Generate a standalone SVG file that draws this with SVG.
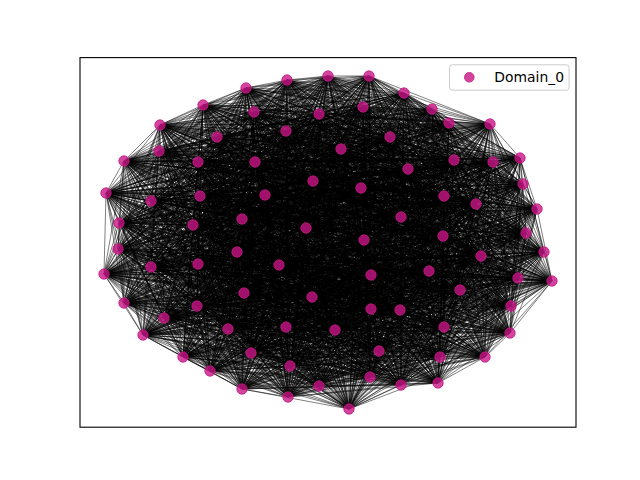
<svg xmlns="http://www.w3.org/2000/svg" width="640" height="480" viewBox="0 0 640 480">
<style>
.e path{fill:none;stroke:#000;stroke-opacity:.5;stroke-width:1;stroke-linejoin:round}
.n circle,.lm{fill:#c71585;fill-opacity:.8;stroke:#c71585;stroke-opacity:.8;stroke-width:1}
.t{font-family:"DejaVu Sans","Liberation Sans",sans-serif;font-size:13.9px;fill:#000}
</style>
<rect width="640" height="480" fill="#fff"/>
<g id="edges" class="e">
<path d="M328,76 369,76 349,409 287,80 288,397 246,88 438,383 404,93 401,385 432,109 319,386 203,105 242,389 254,112 370,377 319,114 210,371 363,107 290,366 449,123 485,357 490,124 440,357 160,125 379,351 217,137 251,353 286,131 183,357 390,137 510,333 341,149 143,335 159,151 444,327 124,161 335,330 198,162 286,327 255,162 228,329 454,160 164,318 493,162 511,306 520,158 400,310 408,169 371,309 313,181 197,306 361,188 124,303 523,184 312,297 265,195 244,293 106,193 460,290 151,201 552,281 200,196 518,278 444,196 429,271 476,204 371,275 537,209 104,274 242,219 279,265 119,223 198,264 193,225 151,267 306,228 544,252 401,217 481,256 443,236 237,252 526,233 118,249 364,240"/>
<path d="M369,76 287,80 328,76 246,88 349,409 404,93 288,397 432,109 438,383 203,105 401,385 254,112 319,386 319,114 242,389 363,107 370,377 449,123 210,371 490,124 290,366 160,125 485,357 217,137 440,357 286,131 379,351 390,137 251,353 341,149 183,357 159,151 510,333 124,161 143,335 198,162 444,327 255,162 335,330 454,160 286,327 493,162 228,329 520,158 164,318 408,169 511,306 313,181 400,310 361,188 371,309 523,184 197,306 265,195 124,303 106,193 312,297 151,201 244,293 200,196 460,290 444,196 552,281 476,204 518,278 537,209 429,271 242,219 371,275 119,223 104,274 193,225 279,265 306,228 198,264 401,217 151,267 443,236 544,252 526,233 481,256 364,240 237,252 118,249"/>
<path d="M287,80 246,88 369,76 404,93 328,76 432,109 349,409 203,105 288,397 254,112 438,383 319,114 401,385 363,107 319,386 449,123 242,389 490,124 370,377 160,125 210,371 217,137 290,366 286,131 485,357 390,137 440,357 341,149 379,351 159,151 251,353 124,161 183,357 198,162 510,333 255,162 143,335 454,160 444,327 493,162 335,330 520,158 286,327 408,169 228,329 313,181 164,318 361,188 511,306 523,184 400,310 265,195 371,309 106,193 197,306 151,201 124,303 200,196 312,297 444,196 244,293 476,204 460,290 537,209 552,281 242,219 518,278 119,223 429,271 193,225 371,275 306,228 104,274 401,217 279,265 443,236 198,264 526,233 151,267 364,240 544,252 118,249 481,256 237,252"/>
<path d="M246,88 404,93 287,80 432,109 369,76 203,105 328,76 254,112 349,409 319,114 288,397 363,107 438,383 449,123 401,385 490,124 319,386 160,125 242,389 217,137 370,377 286,131 210,371 390,137 290,366 341,149 485,357 159,151 440,357 124,161 379,351 198,162 251,353 255,162 183,357 454,160 510,333 493,162 143,335 520,158 444,327 408,169 335,330 313,181 286,327 361,188 228,329 523,184 164,318 265,195 511,306 106,193 400,310 151,201 371,309 200,196 197,306 444,196 124,303 476,204 312,297 537,209 244,293 242,219 460,290 119,223 552,281 193,225 518,278 306,228 429,271 401,217 371,275 443,236 104,274 526,233 279,265 364,240 198,264 118,249 151,267 237,252 544,252 481,256"/>
<path d="M404,93 432,109 246,88 203,105 287,80 254,112 369,76 319,114 328,76 363,107 349,409 449,123 288,397 490,124 438,383 160,125 401,385 217,137 319,386 286,131 242,389 390,137 370,377 341,149 210,371 159,151 290,366 124,161 485,357 198,162 440,357 255,162 379,351 454,160 251,353 493,162 183,357 520,158 510,333 408,169 143,335 313,181 444,327 361,188 335,330 523,184 286,327 265,195 228,329 106,193 164,318 151,201 511,306 200,196 400,310 444,196 371,309 476,204 197,306 537,209 124,303 242,219 312,297 119,223 244,293 193,225 460,290 306,228 552,281 401,217 518,278 443,236 429,271 526,233 371,275 364,240 104,274 118,249 279,265 237,252 198,264 481,256 151,267 544,252"/>
<path d="M432,109 203,105 404,93 254,112 246,88 319,114 287,80 363,107 369,76 449,123 328,76 490,124 349,409 160,125 288,397 217,137 438,383 286,131 401,385 390,137 319,386 341,149 242,389 159,151 370,377 124,161 210,371 198,162 290,366 255,162 485,357 454,160 440,357 493,162 379,351 520,158 251,353 408,169 183,357 313,181 510,333 361,188 143,335 523,184 444,327 265,195 335,330 106,193 286,327 151,201 228,329 200,196 164,318 444,196 511,306 476,204 400,310 537,209 371,309 242,219 197,306 119,223 124,303 193,225 312,297 306,228 244,293 401,217 460,290 443,236 552,281 526,233 518,278 364,240 429,271 118,249 371,275 237,252 104,274 481,256 279,265 544,252 198,264 151,267"/>
<path d="M203,105 254,112 432,109 319,114 404,93 363,107 246,88 449,123 287,80 490,124 369,76 160,125 328,76 217,137 349,409 286,131 288,397 390,137 438,383 341,149 401,385 159,151 319,386 124,161 242,389 198,162 370,377 255,162 210,371 454,160 290,366 493,162 485,357 520,158 440,357 408,169 379,351 313,181 251,353 361,188 183,357 523,184 510,333 265,195 143,335 106,193 444,327 151,201 335,330 200,196 286,327 444,196 228,329 476,204 164,318 537,209 511,306 242,219 400,310 119,223 371,309 193,225 197,306 306,228 124,303 401,217 312,297 443,236 244,293 526,233 460,290 364,240 552,281 118,249 518,278 237,252 429,271 481,256 371,275 544,252 104,274 151,267 279,265 198,264"/>
<path d="M254,112 319,114 203,105 363,107 432,109 449,123 404,93 490,124 246,88 160,125 287,80 217,137 369,76 286,131 328,76 390,137 349,409 341,149 288,397 159,151 438,383 124,161 401,385 198,162 319,386 255,162 242,389 454,160 370,377 493,162 210,371 520,158 290,366 408,169 485,357 313,181 440,357 361,188 379,351 523,184 251,353 265,195 183,357 106,193 510,333 151,201 143,335 200,196 444,327 444,196 335,330 476,204 286,327 537,209 228,329 242,219 164,318 119,223 511,306 193,225 400,310 306,228 371,309 401,217 197,306 443,236 124,303 526,233 312,297 364,240 244,293 118,249 460,290 237,252 552,281 481,256 518,278 544,252 429,271 151,267 371,275 198,264 104,274 279,265"/>
<path d="M319,114 363,107 254,112 449,123 203,105 490,124 432,109 160,125 404,93 217,137 246,88 286,131 287,80 390,137 369,76 341,149 328,76 159,151 349,409 124,161 288,397 198,162 438,383 255,162 401,385 454,160 319,386 493,162 242,389 520,158 370,377 408,169 210,371 313,181 290,366 361,188 485,357 523,184 440,357 265,195 379,351 106,193 251,353 151,201 183,357 200,196 510,333 444,196 143,335 476,204 444,327 537,209 335,330 242,219 286,327 119,223 228,329 193,225 164,318 306,228 511,306 401,217 400,310 443,236 371,309 526,233 197,306 364,240 124,303 118,249 312,297 237,252 244,293 481,256 460,290 544,252 552,281 151,267 518,278 198,264 429,271 279,265 371,275 104,274"/>
<path d="M363,107 449,123 319,114 490,124 254,112 160,125 203,105 217,137 432,109 286,131 404,93 390,137 246,88 341,149 287,80 159,151 369,76 124,161 328,76 198,162 349,409 255,162 288,397 454,160 438,383 493,162 401,385 520,158 319,386 408,169 242,389 313,181 370,377 361,188 210,371 523,184 290,366 265,195 485,357 106,193 440,357 151,201 379,351 200,196 251,353 444,196 183,357 476,204 510,333 537,209 143,335 242,219 444,327 119,223 335,330 193,225 286,327 306,228 228,329 401,217 164,318 443,236 511,306 526,233 400,310 364,240 371,309 118,249 197,306 237,252 124,303 481,256 312,297 544,252 244,293 151,267 460,290 198,264 552,281 279,265 518,278 104,274 429,271 371,275"/>
<path d="M449,123 490,124 363,107 160,125 319,114 217,137 254,112 286,131 203,105 390,137 432,109 341,149 404,93 159,151 246,88 124,161 287,80 198,162 369,76 255,162 328,76 454,160 349,409 493,162 288,397 520,158 438,383 408,169 401,385 313,181 319,386 361,188 242,389 523,184 370,377 265,195 210,371 106,193 290,366 151,201 485,357 200,196 440,357 444,196 379,351 476,204 251,353 537,209 183,357 242,219 510,333 119,223 143,335 193,225 444,327 306,228 335,330 401,217 286,327 443,236 228,329 526,233 164,318 364,240 511,306 118,249 400,310 237,252 371,309 481,256 197,306 544,252 124,303 151,267 312,297 198,264 244,293 279,265 460,290 104,274 552,281 371,275 518,278 429,271"/>
<path d="M490,124 160,125 449,123 217,137 363,107 286,131 319,114 390,137 254,112 341,149 203,105 159,151 432,109 124,161 404,93 198,162 246,88 255,162 287,80 454,160 369,76 493,162 328,76 520,158 349,409 408,169 288,397 313,181 438,383 361,188 401,385 523,184 319,386 265,195 242,389 106,193 370,377 151,201 210,371 200,196 290,366 444,196 485,357 476,204 440,357 537,209 379,351 242,219 251,353 119,223 183,357 193,225 510,333 306,228 143,335 401,217 444,327 443,236 335,330 526,233 286,327 364,240 228,329 118,249 164,318 237,252 511,306 481,256 400,310 544,252 371,309 151,267 197,306 198,264 124,303 279,265 312,297 104,274 244,293 371,275 460,290 429,271 552,281 518,278"/>
<path d="M160,125 217,137 490,124 286,131 449,123 390,137 363,107 341,149 319,114 159,151 254,112 124,161 203,105 198,162 432,109 255,162 404,93 454,160 246,88 493,162 287,80 520,158 369,76 408,169 328,76 313,181 349,409 361,188 288,397 523,184 438,383 265,195 401,385 106,193 319,386 151,201 242,389 200,196 370,377 444,196 210,371 476,204 290,366 537,209 485,357 242,219 440,357 119,223 379,351 193,225 251,353 306,228 183,357 401,217 510,333 443,236 143,335 526,233 444,327 364,240 335,330 118,249 286,327 237,252 228,329 481,256 164,318 544,252 511,306 151,267 400,310 198,264 371,309 279,265 197,306 104,274 124,303 371,275 312,297 429,271 244,293 518,278 460,290 552,281"/>
<path d="M217,137 286,131 160,125 390,137 490,124 341,149 449,123 159,151 363,107 124,161 319,114 198,162 254,112 255,162 203,105 454,160 432,109 493,162 404,93 520,158 246,88 408,169 287,80 313,181 369,76 361,188 328,76 523,184 349,409 265,195 288,397 106,193 438,383 151,201 401,385 200,196 319,386 444,196 242,389 476,204 370,377 537,209 210,371 242,219 290,366 119,223 485,357 193,225 440,357 306,228 379,351 401,217 251,353 443,236 183,357 526,233 510,333 364,240 143,335 118,249 444,327 237,252 335,330 481,256 286,327 544,252 228,329 151,267 164,318 198,264 511,306 279,265 400,310 104,274 371,309 371,275 197,306 429,271 124,303 518,278 312,297 552,281 244,293 460,290"/>
<path d="M286,131 390,137 217,137 341,149 160,125 159,151 490,124 124,161 449,123 198,162 363,107 255,162 319,114 454,160 254,112 493,162 203,105 520,158 432,109 408,169 404,93 313,181 246,88 361,188 287,80 523,184 369,76 265,195 328,76 106,193 349,409 151,201 288,397 200,196 438,383 444,196 401,385 476,204 319,386 537,209 242,389 242,219 370,377 119,223 210,371 193,225 290,366 306,228 485,357 401,217 440,357 443,236 379,351 526,233 251,353 364,240 183,357 118,249 510,333 237,252 143,335 481,256 444,327 544,252 335,330 151,267 286,327 198,264 228,329 279,265 164,318 104,274 511,306 371,275 400,310 429,271 371,309 518,278 197,306 552,281 124,303 460,290 312,297 244,293"/>
<path d="M390,137 341,149 286,131 159,151 217,137 124,161 160,125 198,162 490,124 255,162 449,123 454,160 363,107 493,162 319,114 520,158 254,112 408,169 203,105 313,181 432,109 361,188 404,93 523,184 246,88 265,195 287,80 106,193 369,76 151,201 328,76 200,196 349,409 444,196 288,397 476,204 438,383 537,209 401,385 242,219 319,386 119,223 242,389 193,225 370,377 306,228 210,371 401,217 290,366 443,236 485,357 526,233 440,357 364,240 379,351 118,249 251,353 237,252 183,357 481,256 510,333 544,252 143,335 151,267 444,327 198,264 335,330 279,265 286,327 104,274 228,329 371,275 164,318 429,271 511,306 518,278 400,310 552,281 371,309 460,290 197,306 244,293 124,303 312,297"/>
<path d="M341,149 159,151 390,137 124,161 286,131 198,162 217,137 255,162 160,125 454,160 490,124 493,162 449,123 520,158 363,107 408,169 319,114 313,181 254,112 361,188 203,105 523,184 432,109 265,195 404,93 106,193 246,88 151,201 287,80 200,196 369,76 444,196 328,76 476,204 349,409 537,209 288,397 242,219 438,383 119,223 401,385 193,225 319,386 306,228 242,389 401,217 370,377 443,236 210,371 526,233 290,366 364,240 485,357 118,249 440,357 237,252 379,351 481,256 251,353 544,252 183,357 151,267 510,333 198,264 143,335 279,265 444,327 104,274 335,330 371,275 286,327 429,271 228,329 518,278 164,318 552,281 511,306 460,290 400,310 244,293 371,309 312,297 197,306 124,303"/>
<path d="M159,151 124,161 341,149 198,162 390,137 255,162 286,131 454,160 217,137 493,162 160,125 520,158 490,124 408,169 449,123 313,181 363,107 361,188 319,114 523,184 254,112 265,195 203,105 106,193 432,109 151,201 404,93 200,196 246,88 444,196 287,80 476,204 369,76 537,209 328,76 242,219 349,409 119,223 288,397 193,225 438,383 306,228 401,385 401,217 319,386 443,236 242,389 526,233 370,377 364,240 210,371 118,249 290,366 237,252 485,357 481,256 440,357 544,252 379,351 151,267 251,353 198,264 183,357 279,265 510,333 104,274 143,335 371,275 444,327 429,271 335,330 518,278 286,327 552,281 228,329 460,290 164,318 244,293 511,306 312,297 400,310 124,303 371,309 197,306"/>
<path d="M124,161 198,162 159,151 255,162 341,149 454,160 390,137 493,162 286,131 520,158 217,137 408,169 160,125 313,181 490,124 361,188 449,123 523,184 363,107 265,195 319,114 106,193 254,112 151,201 203,105 200,196 432,109 444,196 404,93 476,204 246,88 537,209 287,80 242,219 369,76 119,223 328,76 193,225 349,409 306,228 288,397 401,217 438,383 443,236 401,385 526,233 319,386 364,240 242,389 118,249 370,377 237,252 210,371 481,256 290,366 544,252 485,357 151,267 440,357 198,264 379,351 279,265 251,353 104,274 183,357 371,275 510,333 429,271 143,335 518,278 444,327 552,281 335,330 460,290 286,327 244,293 228,329 312,297 164,318 124,303 511,306 197,306 400,310 371,309"/>
<path d="M198,162 255,162 124,161 454,160 159,151 493,162 341,149 520,158 390,137 408,169 286,131 313,181 217,137 361,188 160,125 523,184 490,124 265,195 449,123 106,193 363,107 151,201 319,114 200,196 254,112 444,196 203,105 476,204 432,109 537,209 404,93 242,219 246,88 119,223 287,80 193,225 369,76 306,228 328,76 401,217 349,409 443,236 288,397 526,233 438,383 364,240 401,385 118,249 319,386 237,252 242,389 481,256 370,377 544,252 210,371 151,267 290,366 198,264 485,357 279,265 440,357 104,274 379,351 371,275 251,353 429,271 183,357 518,278 510,333 552,281 143,335 460,290 444,327 244,293 335,330 312,297 286,327 124,303 228,329 197,306 164,318 371,309 511,306 400,310"/>
<path d="M255,162 454,160 198,162 493,162 124,161 520,158 159,151 408,169 341,149 313,181 390,137 361,188 286,131 523,184 217,137 265,195 160,125 106,193 490,124 151,201 449,123 200,196 363,107 444,196 319,114 476,204 254,112 537,209 203,105 242,219 432,109 119,223 404,93 193,225 246,88 306,228 287,80 401,217 369,76 443,236 328,76 526,233 349,409 364,240 288,397 118,249 438,383 237,252 401,385 481,256 319,386 544,252 242,389 151,267 370,377 198,264 210,371 279,265 290,366 104,274 485,357 371,275 440,357 429,271 379,351 518,278 251,353 552,281 183,357 460,290 510,333 244,293 143,335 312,297 444,327 124,303 335,330 197,306 286,327 371,309 228,329 400,310 164,318 511,306"/>
<path d="M454,160 493,162 255,162 520,158 198,162 408,169 124,161 313,181 159,151 361,188 341,149 523,184 390,137 265,195 286,131 106,193 217,137 151,201 160,125 200,196 490,124 444,196 449,123 476,204 363,107 537,209 319,114 242,219 254,112 119,223 203,105 193,225 432,109 306,228 404,93 401,217 246,88 443,236 287,80 526,233 369,76 364,240 328,76 118,249 349,409 237,252 288,397 481,256 438,383 544,252 401,385 151,267 319,386 198,264 242,389 279,265 370,377 104,274 210,371 371,275 290,366 429,271 485,357 518,278 440,357 552,281 379,351 460,290 251,353 244,293 183,357 312,297 510,333 124,303 143,335 197,306 444,327 371,309 335,330 400,310 286,327 511,306 228,329 164,318"/>
<path d="M493,162 520,158 454,160 408,169 255,162 313,181 198,162 361,188 124,161 523,184 159,151 265,195 341,149 106,193 390,137 151,201 286,131 200,196 217,137 444,196 160,125 476,204 490,124 537,209 449,123 242,219 363,107 119,223 319,114 193,225 254,112 306,228 203,105 401,217 432,109 443,236 404,93 526,233 246,88 364,240 287,80 118,249 369,76 237,252 328,76 481,256 349,409 544,252 288,397 151,267 438,383 198,264 401,385 279,265 319,386 104,274 242,389 371,275 370,377 429,271 210,371 518,278 290,366 552,281 485,357 460,290 440,357 244,293 379,351 312,297 251,353 124,303 183,357 197,306 510,333 371,309 143,335 400,310 444,327 511,306 335,330 164,318 286,327 228,329"/>
<path d="M520,158 408,169 493,162 313,181 454,160 361,188 255,162 523,184 198,162 265,195 124,161 106,193 159,151 151,201 341,149 200,196 390,137 444,196 286,131 476,204 217,137 537,209 160,125 242,219 490,124 119,223 449,123 193,225 363,107 306,228 319,114 401,217 254,112 443,236 203,105 526,233 432,109 364,240 404,93 118,249 246,88 237,252 287,80 481,256 369,76 544,252 328,76 151,267 349,409 198,264 288,397 279,265 438,383 104,274 401,385 371,275 319,386 429,271 242,389 518,278 370,377 552,281 210,371 460,290 290,366 244,293 485,357 312,297 440,357 124,303 379,351 197,306 251,353 371,309 183,357 400,310 510,333 511,306 143,335 164,318 444,327 228,329 335,330 286,327"/>
<path d="M408,169 313,181 520,158 361,188 493,162 523,184 454,160 265,195 255,162 106,193 198,162 151,201 124,161 200,196 159,151 444,196 341,149 476,204 390,137 537,209 286,131 242,219 217,137 119,223 160,125 193,225 490,124 306,228 449,123 401,217 363,107 443,236 319,114 526,233 254,112 364,240 203,105 118,249 432,109 237,252 404,93 481,256 246,88 544,252 287,80 151,267 369,76 198,264 328,76 279,265 349,409 104,274 288,397 371,275 438,383 429,271 401,385 518,278 319,386 552,281 242,389 460,290 370,377 244,293 210,371 312,297 290,366 124,303 485,357 197,306 440,357 371,309 379,351 400,310 251,353 511,306 183,357 164,318 510,333 228,329 143,335 286,327 444,327 335,330"/>
<path d="M313,181 361,188 408,169 523,184 520,158 265,195 493,162 106,193 454,160 151,201 255,162 200,196 198,162 444,196 124,161 476,204 159,151 537,209 341,149 242,219 390,137 119,223 286,131 193,225 217,137 306,228 160,125 401,217 490,124 443,236 449,123 526,233 363,107 364,240 319,114 118,249 254,112 237,252 203,105 481,256 432,109 544,252 404,93 151,267 246,88 198,264 287,80 279,265 369,76 104,274 328,76 371,275 349,409 429,271 288,397 518,278 438,383 552,281 401,385 460,290 319,386 244,293 242,389 312,297 370,377 124,303 210,371 197,306 290,366 371,309 485,357 400,310 440,357 511,306 379,351 164,318 251,353 228,329 183,357 286,327 510,333 335,330 143,335 444,327"/>
<path d="M361,188 523,184 313,181 265,195 408,169 106,193 520,158 151,201 493,162 200,196 454,160 444,196 255,162 476,204 198,162 537,209 124,161 242,219 159,151 119,223 341,149 193,225 390,137 306,228 286,131 401,217 217,137 443,236 160,125 526,233 490,124 364,240 449,123 118,249 363,107 237,252 319,114 481,256 254,112 544,252 203,105 151,267 432,109 198,264 404,93 279,265 246,88 104,274 287,80 371,275 369,76 429,271 328,76 518,278 349,409 552,281 288,397 460,290 438,383 244,293 401,385 312,297 319,386 124,303 242,389 197,306 370,377 371,309 210,371 400,310 290,366 511,306 485,357 164,318 440,357 228,329 379,351 286,327 251,353 335,330 183,357 444,327 510,333 143,335"/>
<path d="M523,184 265,195 361,188 106,193 313,181 151,201 408,169 200,196 520,158 444,196 493,162 476,204 454,160 537,209 255,162 242,219 198,162 119,223 124,161 193,225 159,151 306,228 341,149 401,217 390,137 443,236 286,131 526,233 217,137 364,240 160,125 118,249 490,124 237,252 449,123 481,256 363,107 544,252 319,114 151,267 254,112 198,264 203,105 279,265 432,109 104,274 404,93 371,275 246,88 429,271 287,80 518,278 369,76 552,281 328,76 460,290 349,409 244,293 288,397 312,297 438,383 124,303 401,385 197,306 319,386 371,309 242,389 400,310 370,377 511,306 210,371 164,318 290,366 228,329 485,357 286,327 440,357 335,330 379,351 444,327 251,353 143,335 183,357 510,333"/>
<path d="M265,195 106,193 523,184 151,201 361,188 200,196 313,181 444,196 408,169 476,204 520,158 537,209 493,162 242,219 454,160 119,223 255,162 193,225 198,162 306,228 124,161 401,217 159,151 443,236 341,149 526,233 390,137 364,240 286,131 118,249 217,137 237,252 160,125 481,256 490,124 544,252 449,123 151,267 363,107 198,264 319,114 279,265 254,112 104,274 203,105 371,275 432,109 429,271 404,93 518,278 246,88 552,281 287,80 460,290 369,76 244,293 328,76 312,297 349,409 124,303 288,397 197,306 438,383 371,309 401,385 400,310 319,386 511,306 242,389 164,318 370,377 228,329 210,371 286,327 290,366 335,330 485,357 444,327 440,357 143,335 379,351 510,333 251,353 183,357"/>
<path d="M106,193 151,201 265,195 200,196 523,184 444,196 361,188 476,204 313,181 537,209 408,169 242,219 520,158 119,223 493,162 193,225 454,160 306,228 255,162 401,217 198,162 443,236 124,161 526,233 159,151 364,240 341,149 118,249 390,137 237,252 286,131 481,256 217,137 544,252 160,125 151,267 490,124 198,264 449,123 279,265 363,107 104,274 319,114 371,275 254,112 429,271 203,105 518,278 432,109 552,281 404,93 460,290 246,88 244,293 287,80 312,297 369,76 124,303 328,76 197,306 349,409 371,309 288,397 400,310 438,383 511,306 401,385 164,318 319,386 228,329 242,389 286,327 370,377 335,330 210,371 444,327 290,366 143,335 485,357 510,333 440,357 183,357 379,351 251,353"/>
<path d="M151,201 200,196 106,193 444,196 265,195 476,204 523,184 537,209 361,188 242,219 313,181 119,223 408,169 193,225 520,158 306,228 493,162 401,217 454,160 443,236 255,162 526,233 198,162 364,240 124,161 118,249 159,151 237,252 341,149 481,256 390,137 544,252 286,131 151,267 217,137 198,264 160,125 279,265 490,124 104,274 449,123 371,275 363,107 429,271 319,114 518,278 254,112 552,281 203,105 460,290 432,109 244,293 404,93 312,297 246,88 124,303 287,80 197,306 369,76 371,309 328,76 400,310 349,409 511,306 288,397 164,318 438,383 228,329 401,385 286,327 319,386 335,330 242,389 444,327 370,377 143,335 210,371 510,333 290,366 183,357 485,357 251,353 440,357 379,351"/>
<path d="M200,196 444,196 151,201 476,204 106,193 537,209 265,195 242,219 523,184 119,223 361,188 193,225 313,181 306,228 408,169 401,217 520,158 443,236 493,162 526,233 454,160 364,240 255,162 118,249 198,162 237,252 124,161 481,256 159,151 544,252 341,149 151,267 390,137 198,264 286,131 279,265 217,137 104,274 160,125 371,275 490,124 429,271 449,123 518,278 363,107 552,281 319,114 460,290 254,112 244,293 203,105 312,297 432,109 124,303 404,93 197,306 246,88 371,309 287,80 400,310 369,76 511,306 328,76 164,318 349,409 228,329 288,397 286,327 438,383 335,330 401,385 444,327 319,386 143,335 242,389 510,333 370,377 183,357 210,371 251,353 290,366 379,351 485,357 440,357"/>
<path d="M444,196 476,204 200,196 537,209 151,201 242,219 106,193 119,223 265,195 193,225 523,184 306,228 361,188 401,217 313,181 443,236 408,169 526,233 520,158 364,240 493,162 118,249 454,160 237,252 255,162 481,256 198,162 544,252 124,161 151,267 159,151 198,264 341,149 279,265 390,137 104,274 286,131 371,275 217,137 429,271 160,125 518,278 490,124 552,281 449,123 460,290 363,107 244,293 319,114 312,297 254,112 124,303 203,105 197,306 432,109 371,309 404,93 400,310 246,88 511,306 287,80 164,318 369,76 228,329 328,76 286,327 349,409 335,330 288,397 444,327 438,383 143,335 401,385 510,333 319,386 183,357 242,389 251,353 370,377 379,351 210,371 440,357 290,366 485,357"/>
<path d="M476,204 537,209 444,196 242,219 200,196 119,223 151,201 193,225 106,193 306,228 265,195 401,217 523,184 443,236 361,188 526,233 313,181 364,240 408,169 118,249 520,158 237,252 493,162 481,256 454,160 544,252 255,162 151,267 198,162 198,264 124,161 279,265 159,151 104,274 341,149 371,275 390,137 429,271 286,131 518,278 217,137 552,281 160,125 460,290 490,124 244,293 449,123 312,297 363,107 124,303 319,114 197,306 254,112 371,309 203,105 400,310 432,109 511,306 404,93 164,318 246,88 228,329 287,80 286,327 369,76 335,330 328,76 444,327 349,409 143,335 288,397 510,333 438,383 183,357 401,385 251,353 319,386 379,351 242,389 440,357 370,377 485,357 210,371 290,366"/>
<path d="M537,209 242,219 476,204 119,223 444,196 193,225 200,196 306,228 151,201 401,217 106,193 443,236 265,195 526,233 523,184 364,240 361,188 118,249 313,181 237,252 408,169 481,256 520,158 544,252 493,162 151,267 454,160 198,264 255,162 279,265 198,162 104,274 124,161 371,275 159,151 429,271 341,149 518,278 390,137 552,281 286,131 460,290 217,137 244,293 160,125 312,297 490,124 124,303 449,123 197,306 363,107 371,309 319,114 400,310 254,112 511,306 203,105 164,318 432,109 228,329 404,93 286,327 246,88 335,330 287,80 444,327 369,76 143,335 328,76 510,333 349,409 183,357 288,397 251,353 438,383 379,351 401,385 440,357 319,386 485,357 242,389 290,366 370,377 210,371"/>
<path d="M242,219 119,223 537,209 193,225 476,204 306,228 444,196 401,217 200,196 443,236 151,201 526,233 106,193 364,240 265,195 118,249 523,184 237,252 361,188 481,256 313,181 544,252 408,169 151,267 520,158 198,264 493,162 279,265 454,160 104,274 255,162 371,275 198,162 429,271 124,161 518,278 159,151 552,281 341,149 460,290 390,137 244,293 286,131 312,297 217,137 124,303 160,125 197,306 490,124 371,309 449,123 400,310 363,107 511,306 319,114 164,318 254,112 228,329 203,105 286,327 432,109 335,330 404,93 444,327 246,88 143,335 287,80 510,333 369,76 183,357 328,76 251,353 349,409 379,351 288,397 440,357 438,383 485,357 401,385 290,366 319,386 210,371 242,389 370,377"/>
<path d="M119,223 193,225 242,219 306,228 537,209 401,217 476,204 443,236 444,196 526,233 200,196 364,240 151,201 118,249 106,193 237,252 265,195 481,256 523,184 544,252 361,188 151,267 313,181 198,264 408,169 279,265 520,158 104,274 493,162 371,275 454,160 429,271 255,162 518,278 198,162 552,281 124,161 460,290 159,151 244,293 341,149 312,297 390,137 124,303 286,131 197,306 217,137 371,309 160,125 400,310 490,124 511,306 449,123 164,318 363,107 228,329 319,114 286,327 254,112 335,330 203,105 444,327 432,109 143,335 404,93 510,333 246,88 183,357 287,80 251,353 369,76 379,351 328,76 440,357 349,409 485,357 288,397 290,366 438,383 210,371 401,385 370,377 319,386 242,389"/>
<path d="M193,225 306,228 119,223 401,217 242,219 443,236 537,209 526,233 476,204 364,240 444,196 118,249 200,196 237,252 151,201 481,256 106,193 544,252 265,195 151,267 523,184 198,264 361,188 279,265 313,181 104,274 408,169 371,275 520,158 429,271 493,162 518,278 454,160 552,281 255,162 460,290 198,162 244,293 124,161 312,297 159,151 124,303 341,149 197,306 390,137 371,309 286,131 400,310 217,137 511,306 160,125 164,318 490,124 228,329 449,123 286,327 363,107 335,330 319,114 444,327 254,112 143,335 203,105 510,333 432,109 183,357 404,93 251,353 246,88 379,351 287,80 440,357 369,76 485,357 328,76 290,366 349,409 210,371 288,397 370,377 438,383 242,389 401,385 319,386"/>
<path d="M306,228 401,217 193,225 443,236 119,223 526,233 242,219 364,240 537,209 118,249 476,204 237,252 444,196 481,256 200,196 544,252 151,201 151,267 106,193 198,264 265,195 279,265 523,184 104,274 361,188 371,275 313,181 429,271 408,169 518,278 520,158 552,281 493,162 460,290 454,160 244,293 255,162 312,297 198,162 124,303 124,161 197,306 159,151 371,309 341,149 400,310 390,137 511,306 286,131 164,318 217,137 228,329 160,125 286,327 490,124 335,330 449,123 444,327 363,107 143,335 319,114 510,333 254,112 183,357 203,105 251,353 432,109 379,351 404,93 440,357 246,88 485,357 287,80 290,366 369,76 210,371 328,76 370,377 349,409 242,389 288,397 319,386 438,383 401,385"/>
<path d="M401,217 443,236 306,228 526,233 193,225 364,240 119,223 118,249 242,219 237,252 537,209 481,256 476,204 544,252 444,196 151,267 200,196 198,264 151,201 279,265 106,193 104,274 265,195 371,275 523,184 429,271 361,188 518,278 313,181 552,281 408,169 460,290 520,158 244,293 493,162 312,297 454,160 124,303 255,162 197,306 198,162 371,309 124,161 400,310 159,151 511,306 341,149 164,318 390,137 228,329 286,131 286,327 217,137 335,330 160,125 444,327 490,124 143,335 449,123 510,333 363,107 183,357 319,114 251,353 254,112 379,351 203,105 440,357 432,109 485,357 404,93 290,366 246,88 210,371 287,80 370,377 369,76 242,389 328,76 319,386 349,409 401,385 288,397 438,383"/>
</g>
<g id="nodes" class="n">
<g id="n0"><circle cx="328" cy="76" r="5.2"/></g>
<g id="n1"><circle cx="369" cy="76" r="5.2"/></g>
<g id="n2"><circle cx="287" cy="80" r="5.2"/></g>
<g id="n3"><circle cx="246" cy="88" r="5.2"/></g>
<g id="n4"><circle cx="404" cy="93" r="5.2"/></g>
<g id="n5"><circle cx="432" cy="109" r="5.2"/></g>
<g id="n6"><circle cx="203" cy="105" r="5.2"/></g>
<g id="n7"><circle cx="254" cy="112" r="5.2"/></g>
<g id="n8"><circle cx="319" cy="114" r="5.2"/></g>
<g id="n9"><circle cx="363" cy="107" r="5.2"/></g>
<g id="n10"><circle cx="449" cy="123" r="5.2"/></g>
<g id="n11"><circle cx="490" cy="124" r="5.2"/></g>
<g id="n12"><circle cx="160" cy="125" r="5.2"/></g>
<g id="n13"><circle cx="217" cy="137" r="5.2"/></g>
<g id="n14"><circle cx="286" cy="131" r="5.2"/></g>
<g id="n15"><circle cx="390" cy="137" r="5.2"/></g>
<g id="n16"><circle cx="341" cy="149" r="5.2"/></g>
<g id="n17"><circle cx="159" cy="151" r="5.2"/></g>
<g id="n18"><circle cx="124" cy="161" r="5.2"/></g>
<g id="n19"><circle cx="198" cy="162" r="5.2"/></g>
<g id="n20"><circle cx="255" cy="162" r="5.2"/></g>
<g id="n21"><circle cx="454" cy="160" r="5.2"/></g>
<g id="n22"><circle cx="493" cy="162" r="5.2"/></g>
<g id="n23"><circle cx="520" cy="158" r="5.2"/></g>
<g id="n24"><circle cx="408" cy="169" r="5.2"/></g>
<g id="n25"><circle cx="313" cy="181" r="5.2"/></g>
<g id="n26"><circle cx="361" cy="188" r="5.2"/></g>
<g id="n27"><circle cx="523" cy="184" r="5.2"/></g>
<g id="n28"><circle cx="265" cy="195" r="5.2"/></g>
<g id="n29"><circle cx="106" cy="193" r="5.2"/></g>
<g id="n30"><circle cx="151" cy="201" r="5.2"/></g>
<g id="n31"><circle cx="200" cy="196" r="5.2"/></g>
<g id="n32"><circle cx="444" cy="196" r="5.2"/></g>
<g id="n33"><circle cx="476" cy="204" r="5.2"/></g>
<g id="n34"><circle cx="537" cy="209" r="5.2"/></g>
<g id="n35"><circle cx="242" cy="219" r="5.2"/></g>
<g id="n36"><circle cx="119" cy="223" r="5.2"/></g>
<g id="n37"><circle cx="193" cy="225" r="5.2"/></g>
<g id="n38"><circle cx="306" cy="228" r="5.2"/></g>
<g id="n39"><circle cx="401" cy="217" r="5.2"/></g>
<g id="n40"><circle cx="443" cy="236" r="5.2"/></g>
<g id="n41"><circle cx="526" cy="233" r="5.2"/></g>
<g id="n42"><circle cx="364" cy="240" r="5.2"/></g>
<g id="n43"><circle cx="118" cy="249" r="5.2"/></g>
<g id="n44"><circle cx="237" cy="252" r="5.2"/></g>
<g id="n45"><circle cx="481" cy="256" r="5.2"/></g>
<g id="n46"><circle cx="544" cy="252" r="5.2"/></g>
<g id="n47"><circle cx="151" cy="267" r="5.2"/></g>
<g id="n48"><circle cx="198" cy="264" r="5.2"/></g>
<g id="n49"><circle cx="279" cy="265" r="5.2"/></g>
<g id="n50"><circle cx="104" cy="274" r="5.2"/></g>
<g id="n51"><circle cx="371" cy="275" r="5.2"/></g>
<g id="n52"><circle cx="429" cy="271" r="5.2"/></g>
<g id="n53"><circle cx="518" cy="278" r="5.2"/></g>
<g id="n54"><circle cx="552" cy="281" r="5.2"/></g>
<g id="n55"><circle cx="460" cy="290" r="5.2"/></g>
<g id="n56"><circle cx="244" cy="293" r="5.2"/></g>
<g id="n57"><circle cx="312" cy="297" r="5.2"/></g>
<g id="n58"><circle cx="124" cy="303" r="5.2"/></g>
<g id="n59"><circle cx="197" cy="306" r="5.2"/></g>
<g id="n60"><circle cx="371" cy="309" r="5.2"/></g>
<g id="n61"><circle cx="400" cy="310" r="5.2"/></g>
<g id="n62"><circle cx="511" cy="306" r="5.2"/></g>
<g id="n63"><circle cx="164" cy="318" r="5.2"/></g>
<g id="n64"><circle cx="228" cy="329" r="5.2"/></g>
<g id="n65"><circle cx="286" cy="327" r="5.2"/></g>
<g id="n66"><circle cx="335" cy="330" r="5.2"/></g>
<g id="n67"><circle cx="444" cy="327" r="5.2"/></g>
<g id="n68"><circle cx="143" cy="335" r="5.2"/></g>
<g id="n69"><circle cx="510" cy="333" r="5.2"/></g>
<g id="n70"><circle cx="183" cy="357" r="5.2"/></g>
<g id="n71"><circle cx="251" cy="353" r="5.2"/></g>
<g id="n72"><circle cx="379" cy="351" r="5.2"/></g>
<g id="n73"><circle cx="440" cy="357" r="5.2"/></g>
<g id="n74"><circle cx="485" cy="357" r="5.2"/></g>
<g id="n75"><circle cx="290" cy="366" r="5.2"/></g>
<g id="n76"><circle cx="210" cy="371" r="5.2"/></g>
<g id="n77"><circle cx="370" cy="377" r="5.2"/></g>
<g id="n78"><circle cx="242" cy="389" r="5.2"/></g>
<g id="n79"><circle cx="319" cy="386" r="5.2"/></g>
<g id="n80"><circle cx="401" cy="385" r="5.2"/></g>
<g id="n81"><circle cx="438" cy="383" r="5.2"/></g>
<g id="n82"><circle cx="288" cy="397" r="5.2"/></g>
<g id="n83"><circle cx="349" cy="409" r="5.2"/></g>
</g>
<rect x="80" y="57.6" width="496" height="369.6" fill="none" stroke="#000" stroke-width="1.1"/>
<g id="legend">
<rect x="449.5" y="64.8" width="119.6" height="25.4" rx="2.8" fill="#fff" fill-opacity=".8" stroke="#ccc" stroke-width="1"/>
<circle class="lm" cx="469.3" cy="77.3" r="4.8"/>
<text class="t" x="494.3" y="81.6">Domain_0</text>
</g>
</svg>
